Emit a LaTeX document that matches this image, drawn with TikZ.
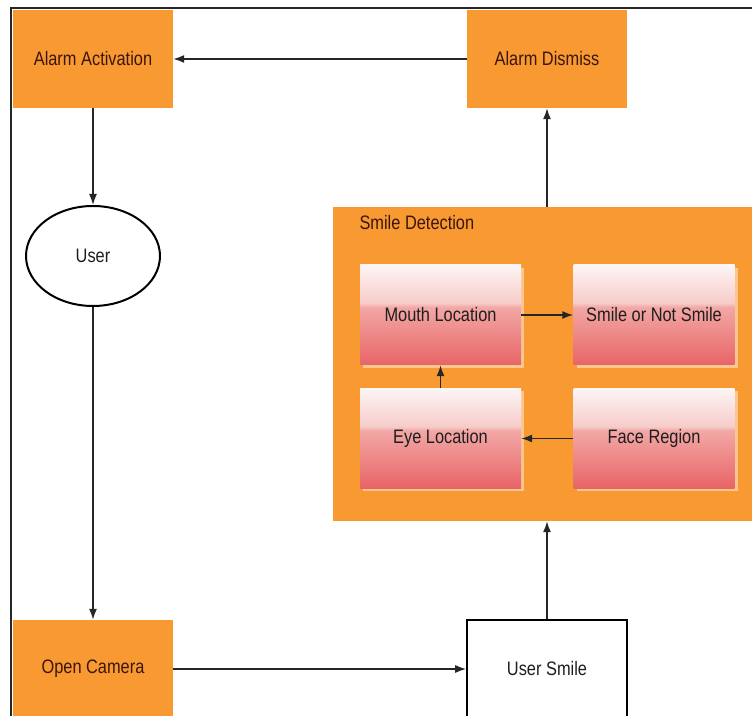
\documentclass[tikz,border=0pt]{standalone}
\usepackage{fontspec}
\setmainfont{Liberation Sans}[FakeStretch=0.84]
\usetikzlibrary{arrows.meta,shapes.geometric,shadows}

\definecolor{boxorange}{RGB}{248,153,50}
\definecolor{darkbrown}{RGB}{58,22,12}
\definecolor{textgray}{RGB}{30,30,30}
\definecolor{redbot}{RGB}{232,100,102}
\definecolor{redmid}{RGB}{242,168,166}
\definecolor{redhi}{RGB}{246,204,202}
\definecolor{redtop}{RGB}{253,245,245}

\pgfdeclareverticalshading{glassred}{100bp}{color(0bp)=(redbot); color(25bp)=(redbot);
  color(54bp)=(redmid); color(56bp)=(redhi); color(75bp)=(redtop); color(100bp)=(redtop)}

\tikzset{
  stepfont/.style={font=\fontsize{19.5}{21}\selectfont},
  orangebox/.style={rectangle, fill=boxorange, text=darkbrown, stepfont,
    minimum width=160pt, minimum height=98pt, inner sep=0pt},
  whitebox/.style={rectangle, draw=black, line width=1.6pt, fill=white, text=textgray, stepfont,
    minimum width=160pt, minimum height=98pt, inner sep=0pt},
  userell/.style={ellipse, draw=black, line width=2pt, fill=white, text=textgray, stepfont,
    minimum width=134pt, minimum height=100pt, inner sep=0pt},
  groupbox/.style={rectangle, fill=boxorange, minimum width=422pt, minimum height=314pt, inner sep=0pt},
  facebox/.style={rectangle, shading=glassred, text=textgray, stepfont,
    minimum width=161pt, minimum height=100pt, inner sep=0pt,
    drop shadow={shadow xshift=3pt, shadow yshift=-3pt, fill=white, opacity=0.45}},
  flow/.style={->, line width=1.5pt, draw=black!85}
}

\begin{document}
\begin{tikzpicture}[x=1pt,y=1pt,>={Latex[length=11pt,width=8pt]}]
\useasboundingbox (0,0) rectangle (752,715);

% outer frame
\draw[line width=2.6pt, black!85] (11,-5) -- (11,707) -- (760,707);

\node(AlarmAct)[orangebox] at (93,656) {Alarm Activation};
\node(AlarmDis)[orangebox] at (547,656) {Alarm Dismiss};
\node(User)[userell] at (93,459) {User};
\node(OpenCam)[orangebox] at (93,46) {Open Camera};
\node(UserSmile)[whitebox] at (547,46) {User Smile};

% smile detection group
\node(SmileDet)[groupbox] at (544,351) {};
\node(SmileDetLbl)[anchor=west, text=darkbrown, stepfont] at (356,492) {Smile Detection};

\node(Mouth)[facebox] at (440.5,400) {Mouth Location};
\node(SmileNot)[facebox] at (654,400) {Smile or Not Smile};
\node(Eye)[facebox] at (440.5,276.5) {Eye Location};
\node(Face)[facebox] at (654,276.5) {Face Region};

\draw[flow] (AlarmDis.west) -- (AlarmAct.east);
\draw[flow] (AlarmAct.south) -- (User.north);
\draw[flow] (User.south) -- (OpenCam.north);
\draw[flow] (OpenCam.east) -- (UserSmile.west);
\draw[flow] (UserSmile.north) -- (UserSmile.north |- SmileDet.south);
\draw[flow] (AlarmDis.south |- SmileDet.north) -- (AlarmDis.south);

\draw[flow] (Mouth.east) -- (SmileNot.west);
\draw[flow] (Face.west) -- (Eye.east);
\draw[flow] (Eye.north) -- (Mouth.south);
\end{tikzpicture}
\end{document}
